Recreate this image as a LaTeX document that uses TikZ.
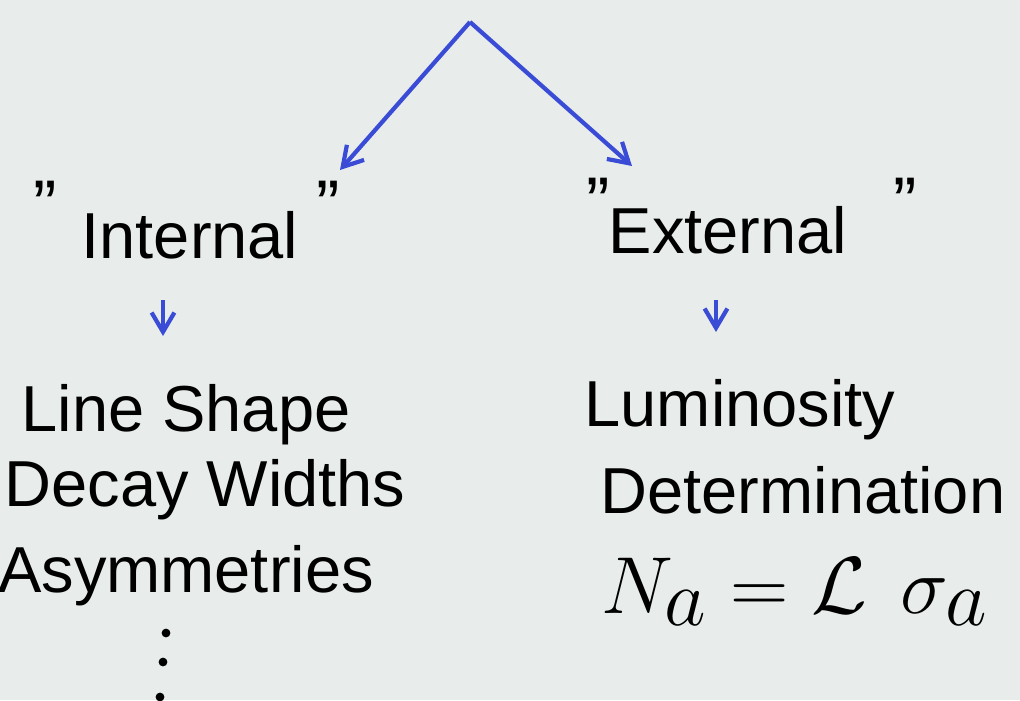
\documentclass[tikz,border=0pt]{standalone}
\usepackage{fontspec}
\setmainfont{Liberation Sans}
\usetikzlibrary{arrows.meta}
\definecolor{bg}{HTML}{E8EDEC}
\definecolor{pen}{HTML}{3A4CD6}
\begin{document}
\begin{tikzpicture}[x=0.02cm,y=-0.02cm,
  lbl/.style={font=\fontsize{37}{40}\selectfont, inner sep=0pt, anchor=center},
  qt/.style={font=\fontsize{40}{40}\selectfont, inner sep=0pt},
  arr/.style={draw=pen, line width=2.4pt, -{Straight Barb[length=11pt,width=13pt,line width=2.4pt]}},
  dot/.style={fill=black, circle, inner sep=0pt, minimum size=5pt}]
\fill[bg] (0,0) rectangle (1020,700);
\useasboundingbox (0,0) rectangle (1020,700);
\coordinate (top) at (470,22);
\node[lbl] (int) at (190,235) {Internal};
\node[qt] (qi1) at (45,205) {''};
\node[qt] (qi2) at (328,205) {''};
\node[lbl] (ext) at (728,230) {External};
\node[qt] (qe1) at (598,202) {''};
\node[qt] (qe2) at (905,202) {''};
\coordinate (intin) at (340,170);
\coordinate (extin) at (632,166);
\draw[arr] (top) -- (intin);
\draw[arr] (top) -- (extin);
\node[lbl] (ls) at (186,415) {Line Shape};
\node[lbl] (dw) at (205,490) {Decay Widths};
\node[lbl] (as) at (186,576) {Asymmetries};
\node[lbl] (lum) at (740,410) {Luminosity};
\node[lbl] (det) at (803,490) {Determination};
\node[lbl] (eq) at (795,592) {\scalebox{1.85}{$N_a = \mathcal{L}\ \sigma_a$}};
\coordinate (i1) at (163,300);
\coordinate (i2) at (163,336);
\coordinate (e1) at (716,300);
\coordinate (e2) at (716,332);
\draw[arr] (i1) -- (i2);
\draw[arr] (e1) -- (e2);
\node[dot] (d1) at (166,633) {};
\node[dot] (d2) at (163,662) {};
\node[dot] (d3) at (160,697) {};
\end{tikzpicture}
\end{document}
